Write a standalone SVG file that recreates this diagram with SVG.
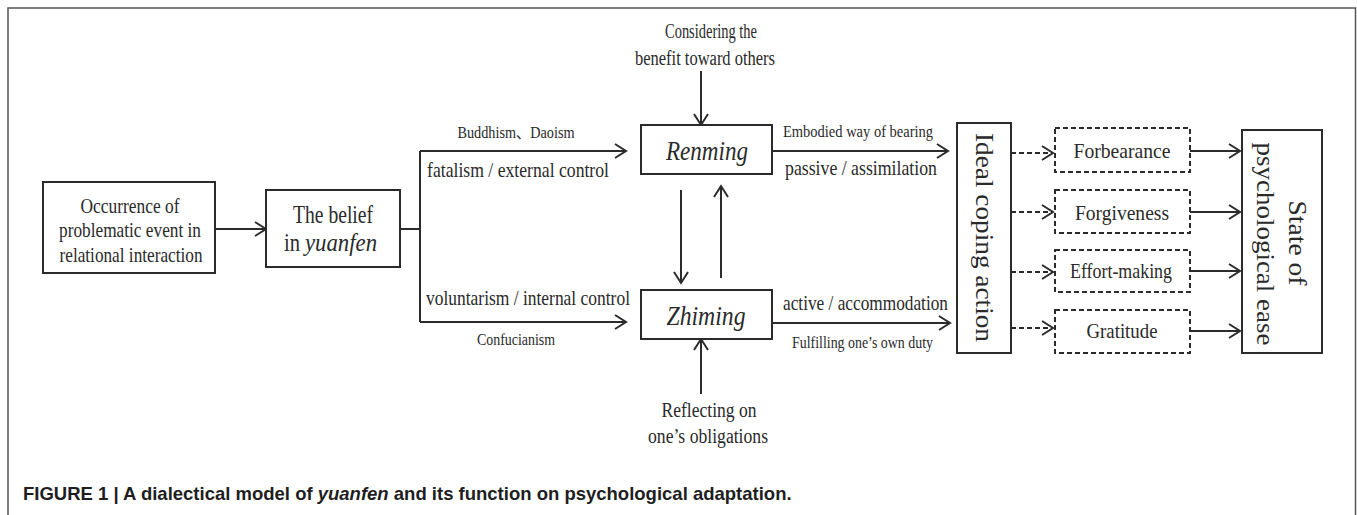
<svg xmlns="http://www.w3.org/2000/svg" width="1357" height="515" viewBox="0 0 1357 515">
  <defs>
    <marker id="arrow" markerUnits="userSpaceOnUse" markerWidth="14" markerHeight="16" refX="11" refY="7" orient="auto" overflow="visible">
      <path d="M0,0 L11,7 L0,14" fill="none" stroke="#2b2b2b" stroke-width="2"/>
    </marker>
    <style>
      .frame { fill: none; stroke: #555; stroke-width: 1.5; }
      .box { fill: #fff; stroke: #2b2b2b; stroke-width: 2; }
      .dbox { fill: #fff; stroke: #2b2b2b; stroke-width: 2; stroke-dasharray: 5 3; }
      .line { fill: none; stroke: #2b2b2b; stroke-width: 2; }
      .arr { fill: none; stroke: #2b2b2b; stroke-width: 2; marker-end: url(#arrow); }
      .darr { fill: none; stroke: #2b2b2b; stroke-width: 2; stroke-dasharray: 5 3; marker-end: url(#arrow); }
      text { font-family: "Liberation Serif", "Noto Sans CJK SC", serif; fill: #2a2a2a; }
      .c { text-anchor: middle; }
      .it { font-style: italic; }
      .cap { font-family: "Liberation Sans", Arial, sans-serif; font-weight: bold; font-size: 18.5px; fill: #1e1e1e; }
    </style>
  </defs>

  <!-- outer frame, open at the bottom -->
  <path class="frame" d="M8,515 V8 H1355.5 V515"/>

  <!-- connectors -->
  <g id="connectors">
    <path class="arr" d="M215,229 H266"/>
    <path class="line" d="M400,229 H420"/>
    <path class="line" d="M420,151 V322"/>
    <path class="arr" d="M420,151 H626"/>
    <path class="arr" d="M420,322 H626"/>
    <path class="arr" d="M701,71 V125"/>
    <path class="arr" d="M701,394 V339"/>
    <path class="arr" d="M681,190 V283"/>
    <path class="arr" d="M721,278 V186"/>
    <path class="arr" d="M772,151 H948"/>
    <path class="arr" d="M772,323 H950"/>
    <path class="darr" d="M1011,153 H1053"/>
    <path class="darr" d="M1011,212 H1053"/>
    <path class="darr" d="M1011,272 H1053"/>
    <path class="darr" d="M1011,328 H1053"/>
    <path class="arr" d="M1190,151 H1240"/>
    <path class="arr" d="M1190,212 H1240"/>
    <path class="arr" d="M1190,271 H1240"/>
    <path class="arr" d="M1190,331 H1240"/>
  </g>

  <!-- connector labels -->
  <g id="labels">
    <text x="516" y="138" class="c" font-size="16" textLength="117" lengthAdjust="spacingAndGlyphs">Buddhism、Daoism</text>
    <text x="427" y="177" font-size="21" textLength="182" lengthAdjust="spacingAndGlyphs">fatalism / external control</text>
    <text x="426" y="305" font-size="21" textLength="204" lengthAdjust="spacingAndGlyphs">voluntarism / internal control</text>
    <text x="516" y="345" class="c" font-size="16" textLength="78" lengthAdjust="spacingAndGlyphs">Confucianism</text>
    <text x="783" y="137" font-size="16" textLength="150" lengthAdjust="spacingAndGlyphs">Embodied way of bearing</text>
    <text x="785" y="175" font-size="21" textLength="152" lengthAdjust="spacingAndGlyphs">passive / assimilation</text>
    <text x="783" y="310" font-size="21" textLength="165" lengthAdjust="spacingAndGlyphs">active / accommodation</text>
    <text x="792" y="348" font-size="16" textLength="141" lengthAdjust="spacingAndGlyphs">Fulfilling one’s own duty</text>
  </g>

  <g id="considering">
    <text x="711" y="38" class="c" font-size="20" textLength="92" lengthAdjust="spacingAndGlyphs">Considering the</text>
    <text x="705" y="65" class="c" font-size="20" textLength="140" lengthAdjust="spacingAndGlyphs">benefit toward others</text>
  </g>

  <g id="reflecting">
    <text x="709" y="417" class="c" font-size="20" textLength="95" lengthAdjust="spacingAndGlyphs">Reflecting on</text>
    <text x="708" y="443" class="c" font-size="20" textLength="120" lengthAdjust="spacingAndGlyphs">one’s obligations</text>
  </g>

  <g id="occurrence">
    <rect class="box" x="43" y="182" width="172" height="91"/>
    <text x="130" y="213" class="c" font-size="21" textLength="99" lengthAdjust="spacingAndGlyphs">Occurrence of</text>
    <text x="130" y="237" class="c" font-size="21" textLength="142" lengthAdjust="spacingAndGlyphs">problematic event in</text>
    <text x="131" y="262" class="c" font-size="21" textLength="143" lengthAdjust="spacingAndGlyphs">relational interaction</text>
  </g>

  <g id="belief">
    <rect class="box" x="266" y="190" width="134" height="77"/>
    <text x="333" y="223" class="c" font-size="25" textLength="80" lengthAdjust="spacingAndGlyphs">The belief</text>
    <text x="284" y="251" font-size="25" textLength="16" lengthAdjust="spacingAndGlyphs">in</text>
    <text x="305" y="251" class="it" font-size="25" textLength="72" lengthAdjust="spacingAndGlyphs">yuanfen</text>
  </g>

  <g id="renming">
    <rect class="box" x="641" y="125" width="131" height="49"/>
    <text x="707" y="160" class="c it" font-size="28" textLength="82" lengthAdjust="spacingAndGlyphs">Renming</text>
  </g>

  <g id="zhiming">
    <rect class="box" x="641" y="290" width="131" height="49"/>
    <text x="706" y="325" class="c it" font-size="28" textLength="79" lengthAdjust="spacingAndGlyphs">Zhiming</text>
  </g>

  <g id="coping">
    <rect class="box" x="957" y="123" width="54" height="230"/>
    <text transform="translate(984,237.5) rotate(90)" x="0" y="8" class="c" font-size="25" textLength="209" lengthAdjust="spacingAndGlyphs">Ideal coping action</text>
  </g>

  <g id="forbearance">
    <rect class="dbox" x="1055" y="128" width="135" height="44"/>
    <text x="1122" y="158" class="c" font-size="22" textLength="97" lengthAdjust="spacingAndGlyphs">Forbearance</text>
  </g>

  <g id="forgiveness">
    <rect class="dbox" x="1055" y="190" width="135" height="43"/>
    <text x="1122" y="220" class="c" font-size="22" textLength="94" lengthAdjust="spacingAndGlyphs">Forgiveness</text>
  </g>

  <g id="effort">
    <rect class="dbox" x="1055" y="250" width="135" height="42"/>
    <text x="1121" y="278" class="c" font-size="22" textLength="102" lengthAdjust="spacingAndGlyphs">Effort-making</text>
  </g>

  <g id="gratitude">
    <rect class="dbox" x="1055" y="310" width="135" height="43"/>
    <text x="1122" y="338" class="c" font-size="22" textLength="71" lengthAdjust="spacingAndGlyphs">Gratitude</text>
  </g>

  <g id="state">
    <rect class="box" x="1242" y="130" width="80" height="223"/>
    <g transform="translate(1282,243) rotate(90)">
      <text x="0" y="-7" class="c" font-size="26" textLength="85" lengthAdjust="spacingAndGlyphs">State of</text>
      <text x="1" y="25" class="c" font-size="26" textLength="203" lengthAdjust="spacingAndGlyphs">psychological ease</text>
    </g>
  </g>

  <!-- caption -->
  <text class="cap" x="23" y="500">FIGURE 1 | A dialectical model of <tspan font-style="italic">yuanfen</tspan> and its function on psychological adaptation.</text>
</svg>
